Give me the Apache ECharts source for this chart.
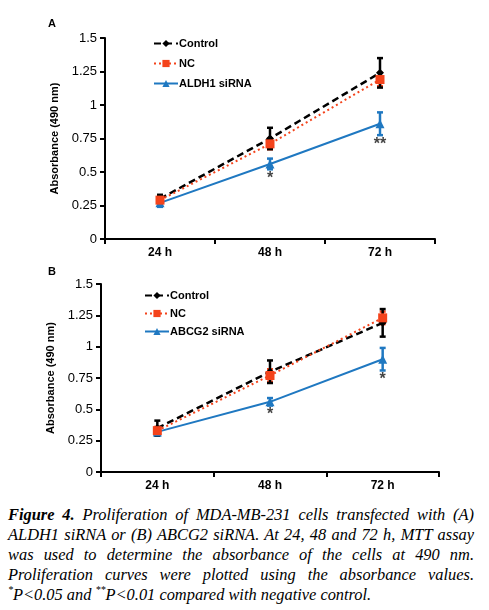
<!DOCTYPE html>
<html><head><meta charset="utf-8">
<script src="https://cdn.jsdelivr.net/npm/echarts@6/dist/echarts.min.js"></script>
<style>
html,body{margin:0;padding:0;background:#fff;width:489px;height:610px;overflow:hidden;}
#chart{position:absolute;left:0;top:0;width:489px;height:500px;}
#cap{position:absolute;left:8px;top:505px;width:466px;font-family:"Liberation Serif","Times New Roman",serif;font-style:italic;font-size:16.4px;line-height:20px;color:#000;}
#cap .j{text-align:justify;text-align-last:justify;}
#cap .l{text-align:left;white-space:nowrap;}
#cap b{font-weight:bold;}
#cap sup{font-size:10px;line-height:0;vertical-align:7px;}
</style></head>
<body>
<div id="chart"></div>
<div id="cap">
<div class="j"><b>Figure 4.</b> Proliferation of MDA-MB-231 cells transfected with (A)</div>
<div class="j">ALDH1 siRNA or (B) ABCG2 siRNA. At 24, 48 and 72 h, MTT assay</div>
<div class="j">was used to determine the absorbance of the cells at 490 nm.</div>
<div class="j">Proliferation curves were plotted using the absorbance values.</div>
<div class="l"><sup>*</sup>P&lt;0.05 and <sup>**</sup>P&lt;0.01 compared with negative control.</div>
</div>
<script>
const categories = ['24 h', '48 h', '72 h'];
const yTicks = [0, 0.25, 0.5, 0.75, 1, 1.25, 1.5];
// Panel A
const aControl = [0.30, 0.75, 1.24];
const aControlErr = [0.03, 0.08, 0.11];
const aNC = [0.29, 0.71, 1.19];
const aNCErr = [0.02, 0.04, 0.05];
const aAldh = [0.27, 0.56, 0.86];
const aAldhErr = [0.03, 0.04, 0.085];
const aSig = ['', '*', '**'];
// Panel B
const bControl = [0.35, 0.80, 1.19];
const bControlErr = [0.06, 0.09, 0.11];
const bNC = [0.33, 0.77, 1.23];
const bNCErr = [0.03, 0.05, 0.05];
const bAbcg = [0.32, 0.56, 0.90];
const bAbcgErr = [0.03, 0.03, 0.09];
const bSig = ['', '*', '*'];

const BLACK = '#000000', RED = '#f4431b', BLUE = '#1f78c1';
const FONT = '"Liberation Sans", Arial, sans-serif';

function errData(vals, errs) { return vals.map((v, i) => [i, v - errs[i], v + errs[i]]); }
function errSeries(vals, errs, color, idx, z) {
  return {
    type: 'custom', xAxisIndex: idx, yAxisIndex: idx, z: z, silent: true,
    data: errData(vals, errs),
    renderItem: function (params, api) {
      const x = api.value(0);
      const lo = api.coord([x, api.value(1)]);
      const hi = api.coord([x, api.value(2)]);
      const w = 3;
      const st = { stroke: color, lineWidth: 2.5 };
      return { type: 'group', children: [
        { type: 'line', shape: { x1: lo[0], y1: lo[1], x2: hi[0], y2: hi[1] }, style: st },
        { type: 'line', shape: { x1: lo[0] - w, y1: lo[1], x2: lo[0] + w, y2: lo[1] }, style: st },
        { type: 'line', shape: { x1: hi[0] - w, y1: hi[1], x2: hi[0] + w, y2: hi[1] }, style: st }
      ]};
    }
  };
}
function lineSeries(name, vals, color, type, width, symbol, size, idx, z) {
  return {
    name: name, type: 'line', xAxisIndex: idx, yAxisIndex: idx, z: z,
    data: vals, symbol: symbol, symbolSize: size, showSymbol: true,
    lineStyle: { color: color, width: width, type: type },
    itemStyle: { color: color }, emphasis: { disabled: true }
  };
}
function sigSeries(vals, errs, sig, idx) {
  return {
    type: 'scatter', xAxisIndex: idx, yAxisIndex: idx, symbolSize: 0, silent: true,
    data: vals.map((v, i) => ({ value: [i, v - errs[i]], label: { show: sig[i] !== '', formatter: sig[i] } })),
    label: { position: 'bottom', distance: 1, color: '#111', fontSize: 16, fontFamily: FONT, fontWeight: 'bold' }
  };
}
function xAxis(idx) {
  return {
    type: 'category', gridIndex: idx, data: categories, boundaryGap: true,
    axisLine: { lineStyle: { color: BLACK, width: 2 } },
    axisTick: { show: true, inside: false, length: 5, alignWithLabel: false, lineStyle: { color: BLACK, width: 2 } },
    axisLabel: { color: BLACK, fontFamily: FONT, fontWeight: 'bold', fontSize: 12, margin: 8 },
    splitLine: { show: false }
  };
}
function yAxis(idx) {
  return {
    type: 'value', gridIndex: idx, min: yTicks[0], max: yTicks[yTicks.length - 1], interval: 0.25,
    name: 'Absorbance (490 nm)', nameLocation: 'middle', nameGap: 40, nameRotate: 90,
    nameTextStyle: { color: BLACK, fontFamily: FONT, fontWeight: 'bold', fontSize: 11 },
    axisLine: { show: true, lineStyle: { color: BLACK, width: 2 } },
    axisTick: { show: true, inside: false, length: 5, lineStyle: { color: BLACK, width: 2 } },
    axisLabel: { color: BLACK, fontFamily: FONT, fontSize: 13, margin: 8 },
    splitLine: { show: false }
  };
}
function legend(top, left, gap, names) {
  return {
    orient: 'vertical', top: top, left: left, itemGap: gap, itemWidth: 24, itemHeight: 9,
    data: names, selectedMode: false,
    textStyle: { color: BLACK, fontFamily: FONT, fontWeight: 'bold', fontSize: 11, padding: [0, 0, 0, -4] }
  };
}

const chart = echarts.init(document.getElementById('chart'), null, { renderer: 'canvas' });
chart.setOption({
  animation: false,
  backgroundColor: '#fff',
  title: [
    { text: 'A', left: 43, top: 13, textStyle: { fontFamily: FONT, fontWeight: 'bold', fontSize: 11, color: BLACK } },
    { text: 'B', left: 43, top: 261, textStyle: { fontFamily: FONT, fontWeight: 'bold', fontSize: 11, color: BLACK } }
  ],
  grid: [
    { left: 105, top: 38, width: 330, height: 201 },
    { left: 101, top: 284, width: 338, height: 188 }
  ],
  xAxis: [xAxis(0), xAxis(1)],
  yAxis: [yAxis(0), yAxis(1)],
  legend: [
    legend(33, 148, 9, ['Control', 'NC', 'ALDH1 siRNA']),
    legend(285, 139, 7, [{ name: 'Control' }, { name: 'NC' }, { name: 'ABCG2 siRNA' }])
  ],
  series: [
    errSeries(aAldh, aAldhErr, BLUE, 0, 3),
    errSeries(aNC, aNCErr, RED, 0, 3),
    errSeries(aControl, aControlErr, BLACK, 0, 4),
    lineSeries('ALDH1 siRNA', aAldh, BLUE, 'solid', 2, 'triangle', 9, 0, 5),
    lineSeries('NC', aNC, RED, [2, 3], 2, 'rect', 9, 0, 6),
    lineSeries('Control', aControl, BLACK, [7, 4], 2.5, 'diamond', 8, 0, 5),
    sigSeries(aAldh, aAldhErr, aSig, 0),
    errSeries(bAbcg, bAbcgErr, BLUE, 1, 3),
    errSeries(bNC, bNCErr, RED, 1, 3),
    errSeries(bControl, bControlErr, BLACK, 1, 4),
    lineSeries('ABCG2 siRNA', bAbcg, BLUE, 'solid', 2, 'triangle', 9, 1, 5),
    lineSeries('NC', bNC, RED, [2, 3], 2, 'rect', 9, 1, 6),
    lineSeries('Control', bControl, BLACK, [7, 4], 2.5, 'diamond', 8, 1, 5),
    sigSeries(bAbcg, bAbcgErr, bSig, 1)
  ]
});
</script>
</body></html>
